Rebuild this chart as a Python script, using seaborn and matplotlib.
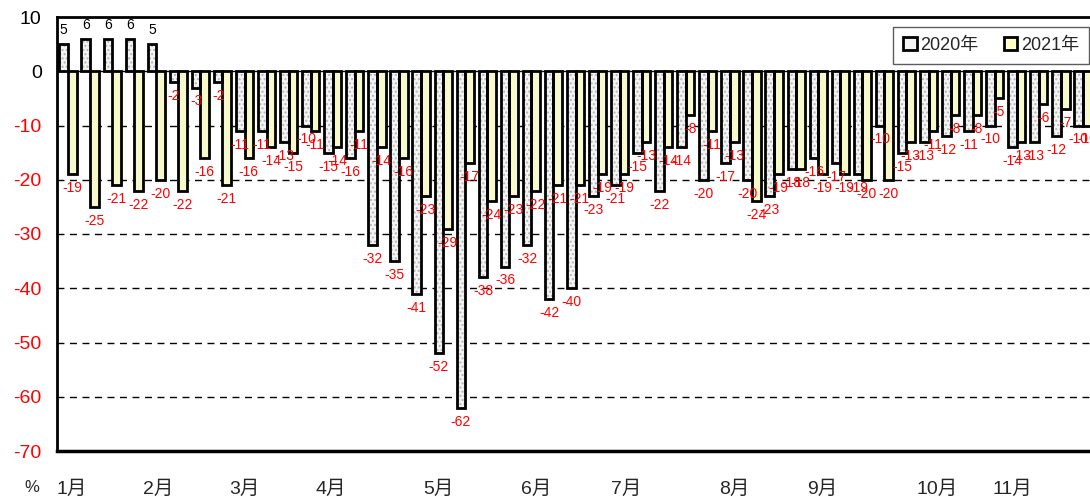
import pandas as pd
import matplotlib.pyplot as plt
import seaborn as sns
from matplotlib.patches import Patch

# weekly year-on-year change (%), one value per week
weeks = list(range(1, 48))
y2020 = [5, 6, 6, 6, 5, -2, -3, -2, -11, -11,
         -13, -10, -15, -16, -32, -35, -41, -52, -62, -38,
         -36, -32, -42, -40, -23, -21, -15, -22, -14, -20,
         -17, -20, -23, -18, -16, -17, -19, -10, -15, -13,
         -12, -11, -10, -14, -13, -12, -10]
y2021 = [-19, -25, -21, -22, -20, -22, -16, -21, -16, -14,
         -15, -11, -14, -11, -14, -16, -23, -29, -17, -24,
         -23, -22, -21, -21, -19, -19, -13, -14, -8, -11,
         -13, -24, -19, -18, -19, -19, -20, -20, -13, -11,
         -8, -8, -5, -13, -6, -7, -10]
years = ["2020年", "2021年"]

# month labels sit at these week positions on the category axis
month_labels = ["1月", "2月", "3月", "4月", "5月", "6月", "7月", "8月", "9月", "10月", "11月"]
month_pos = [0.15, 4.1, 8.0, 11.9, 16.8, 21.2, 25.3, 30.2, 34.2, 39.4, 42.8]
yticks = [10, 0, -10, -20, -30, -40, -50, -60, -70]

df = pd.DataFrame({
    "week": weeks * 2,
    "year": [years[0]] * len(weeks) + [years[1]] * len(weeks),
    "value": y2020 + y2021,
})

sns.set_theme(style="white")
plt.rcParams["font.family"] = ["Liberation Sans", "Noto Sans CJK JP"]

fig = plt.figure(figsize=(10.9, 4.97), dpi=100)
ax = fig.add_axes([57 / 1090, 1 - 451 / 497, 1037 / 1090, 434 / 497])

fills = {years[0]: "#f4f4f4", years[1]: "#ffffc6"}

# layer 1: fills, dotted texture on 2020
sns.barplot(data=df, x="week", y="value", hue="year", palette=fills,
            width=0.78, gap=0, linewidth=0, legend=False, ax=ax, zorder=2)
for p in ax.containers[0]:
    p.set_hatch("....")
    p.set_edgecolor("#b5b5b5")
    p.set_linewidth(0)

# layer 2: thick black outlines
sns.barplot(data=df, x="week", y="value", hue="year", palette=fills,
            width=0.78, gap=0, linewidth=2, edgecolor="black",
            legend=False, ax=ax, zorder=3)
for cont in ax.containers[2:]:
    for p in cont:
        p.set_facecolor("none")

# value labels
for cont, vals in zip(ax.containers[2:], [y2020, y2021]):
    texts = ax.bar_label(cont, labels=[str(v) for v in vals], padding=5, fontsize=10)
    for t, v in zip(texts, vals):
        t.set_color("red" if v < 0 else "black")

# grid
for v in yticks[2:-1]:
    ax.axhline(v, color="black", lw=1, ls=(0, (5, 4)), zorder=1)
ax.axhline(0, color="black", lw=1, zorder=1)

ax.set_ylim(-70, 10)
ax.set_yticks(yticks)
ax.set_yticklabels([str(v) for v in yticks], fontsize=14)
for lab, v in zip(ax.get_yticklabels(), yticks):
    lab.set_color("red" if v < 0 else "black")
ax.set_xticks(month_pos)
ax.set_xticklabels(month_labels, fontsize=14)
ax.tick_params(axis="y", length=0, pad=11)
ax.tick_params(axis="x", length=0, pad=21)
ax.set_xlabel("")
ax.set_ylabel("")

for side in ["left", "bottom", "top"]:
    ax.spines[side].set_color("black")
ax.spines["left"].set_linewidth(2)
ax.spines["bottom"].set_linewidth(2.5)
ax.spines["top"].set_linewidth(2)
ax.spines["right"].set_visible(False)

fig.text(32 / 1090, 1 - 488 / 497, "%", ha="center", va="center", fontsize=12)

handles = [Patch(facecolor=fills[y], edgecolor="black", linewidth=2, label=y) for y in years]
leg = ax.legend(handles=handles, ncol=2, loc="upper right",
                bbox_to_anchor=(1089 / 1090, 1 - 27 / 497), bbox_transform=fig.transFigure,
                fontsize=13, frameon=True, fancybox=False, handlelength=0.75, handleheight=0.75,
                handletextpad=0.2, columnspacing=1.4, borderpad=0.55, borderaxespad=0)
leg.get_frame().set_edgecolor("#333333")
leg.get_frame().set_linewidth(1)

fig.savefig("out.png", dpi=100)
